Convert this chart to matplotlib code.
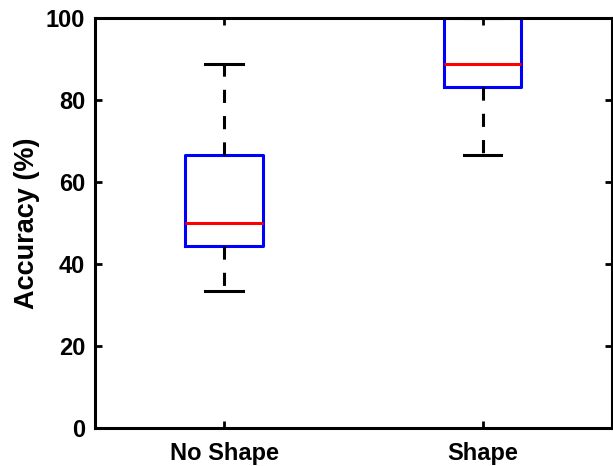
import matplotlib
matplotlib.use('Agg')
import matplotlib.pyplot as plt

# box statistics (accuracy in %)
labels = ['No Shape', 'Shape']
whislo = [33.3, 66.7]
q1 = [44.4, 83.3]
med = [50.0, 88.9]
q3 = [66.7, 100.0]
whishi = [88.9, 100.0]

yticks = [0, 20, 40, 60, 80, 100]

plt.rcParams['font.family'] = ['Liberation Sans', 'DejaVu Sans']
plt.rcParams['font.weight'] = 'bold'

fig = plt.figure(figsize=(6.13, 4.66), dpi=100)
ax = fig.add_axes([0.155, 0.082, 0.843, 0.879])

stats = []
for i in range(len(labels)):
    stats.append({'label': labels[i], 'whislo': whislo[i], 'q1': q1[i], 'med': med[i],
                  'q3': q3[i], 'whishi': whishi[i], 'fliers': []})

ax.bxp(stats, positions=[1, 2], widths=0.30, showfliers=False,
       boxprops=dict(color='#0000ff', linewidth=2.2),
       medianprops=dict(color='#ff0000', linewidth=2.2),
       whiskerprops=dict(color='black', linewidth=2.2, linestyle=(0, (4.3, 4.3))),
       capprops=dict(color='black', linewidth=2.2), capwidths=0.145)

ax.set_xlim(0.5, 2.5)
ax.set_ylim(0, 100)
ax.set_yticks(yticks)
ax.set_xticks([1, 2])
ax.set_xticklabels(labels)
ax.set_ylabel('Accuracy (%)', fontsize=19.5, fontweight='bold', labelpad=4)

ax.tick_params(direction='in', length=5, width=2, labelsize=17,
               top=True, right=True, pad=7)
ax.tick_params(axis='x', pad=10)
for s in ax.spines.values():
    s.set_linewidth(2.2)

plt.savefig('out.png', dpi=100)
